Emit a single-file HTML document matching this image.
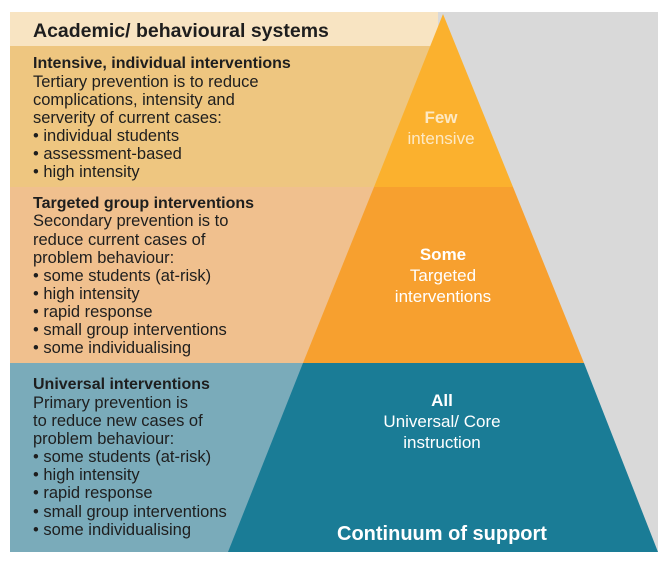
<!DOCTYPE html>
<html><head><meta charset="utf-8"><style>
html,body{margin:0;padding:0;background:#fff}
svg{display:block}
text{font-family:"Liberation Sans",sans-serif}
</style></head><body>
<svg width="667" height="563" viewBox="0 0 667 563">
<rect x="0" y="0" width="667" height="563" fill="#fff"/>
<rect x="10" y="12" width="648" height="540" fill="#d9d9d9"/>
<rect x="10" y="12" width="428" height="34" fill="#f8e4c2"/>
<rect x="10" y="46" width="420" height="141" fill="#eec680"/>
<rect x="10" y="187" width="370" height="176" fill="#f0c08e"/>
<rect x="10" y="363" width="300" height="189" fill="#7aabba"/>
<polygon points="443,14 374,187 513,187" fill="#fbb12e"/>
<polygon points="374,187 513,187 584,363 303,363" fill="#f7a02f"/>
<polygon points="303,363 584,363 658,552 228,552" fill="#1a7c96"/>
<g fill="#1e1e1e" font-size="16.5">
<text x="33" y="37" font-size="19.5" font-weight="bold">Academic/ behavioural systems</text>
<text x="33" y="68" font-size="16" font-weight="bold">Intensive, individual interventions</text>
<text x="33" y="87">Tertiary prevention is to reduce</text>
<text x="33" y="105">complications, intensity and</text>
<text x="33" y="123">serverity of current cases:</text>
<text x="33" y="141">• individual students</text>
<text x="33" y="159">• assessment-based</text>
<text x="33" y="177">• high intensity</text>
<text x="33" y="208" font-size="16" font-weight="bold">Targeted group interventions</text>
<text x="33" y="226">Secondary prevention is to</text>
<text x="33" y="245">reduce current cases of</text>
<text x="33" y="263">problem behaviour:</text>
<text x="33" y="281">• some students (at-risk)</text>
<text x="33" y="299">• high intensity</text>
<text x="33" y="317">• rapid response</text>
<text x="33" y="335">• small group interventions</text>
<text x="33" y="353">• some individualising</text>
<text x="33" y="389" font-size="16" font-weight="bold">Universal interventions</text>
<text x="33" y="408">Primary prevention is</text>
<text x="33" y="426">to reduce new cases of</text>
<text x="33" y="444">problem behaviour:</text>
<text x="33" y="462">• some students (at-risk)</text>
<text x="33" y="480">• high intensity</text>
<text x="33" y="498">• rapid response</text>
<text x="33" y="517">• small group interventions</text>
<text x="33" y="535">• some individualising</text>
</g>
<g fill="#fff" font-size="17" text-anchor="middle">
<text x="441" y="123" font-weight="bold" fill="#fde9c4">Few</text>
<text x="441" y="144" fill="#fde9c4">intensive</text>
<text x="443" y="260" font-weight="bold">Some</text>
<text x="443" y="281">Targeted</text>
<text x="443" y="302">interventions</text>
<text x="442" y="406" font-weight="bold">All</text>
<text x="442" y="427">Universal/ Core</text>
<text x="442" y="448">instruction</text>
<text x="442" y="540" font-size="20" font-weight="bold">Continuum of support</text>
</g>
</svg>
</body></html>
